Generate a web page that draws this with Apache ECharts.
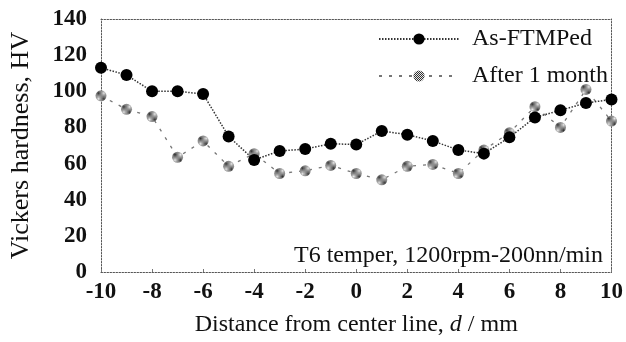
<!DOCTYPE html>
<html>
<head>
<meta charset="utf-8">
<script src="https://cdn.jsdelivr.net/npm/echarts@6/dist/echarts.min.js"></script>
<style>html,body{margin:0;padding:0;background:#fff;}#c{width:626px;height:342px;}</style>
</head>
<body>
<div id="c"></div>
<script>
const distance = [-10,-9,-8,-7,-6,-5,-4,-3,-2,-1,0,1,2,3,4,5,6,7,8,9,10];
const asFTMPed = [113,109,100,100,98.5,75,62,67,68,71,70.5,78,76,72.5,67.5,65.5,74.5,85.5,89.5,93.5,95.5];
const after1Month = [97.5,90,86,63.5,72.5,58.5,65.5,54.5,56,59,54.5,51,58.5,59.5,54.5,67.5,77,91.5,80,101,83.5];
const xTicks = [-10,-8,-6,-4,-2,0,2,4,6,8,10];
const yTicks = [0,20,40,60,80,100,120,140];
const seriesNames = ['As-FTMPed','After 1 month'];
const xTitle = 'Distance from center line, ';
const yTitle = 'Vickers hardness, HV';
const note = 'T6 temper, 1200rpm-200nn/min';

const FONT = '"Liberation Serif","Times New Roman",serif';
const pc = document.createElement('canvas');
pc.width = 2; pc.height = 2;
const pctx = pc.getContext('2d');
pctx.fillStyle = '#e8e8e8'; pctx.fillRect(0,0,2,2);
pctx.fillStyle = '#333'; pctx.fillRect(0,0,1,1); pctx.fillRect(1,1,1,1);

const s1 = asFTMPed.map((v,i)=>[distance[i], v]);
const s2 = after1Month.map((v,i)=>[distance[i], v]);

const frame = {show:true, onZero:false, lineStyle:{color:'#555', width:1, type:[1.5,1.5]}};
const chart = echarts.init(document.getElementById('c'), null, {renderer:'canvas'});
chart.setOption({
  animation:false,
  backgroundColor:'#fff',
  grid:{left:97, right:12, top:19, bottom:66, containLabel:false},
  xAxis:[{
    type:'value', min:xTicks[0], max:xTicks[xTicks.length-1], interval:2,
    axisLine:frame,
    axisTick:{show:true, inside:true, length:3, lineStyle:{color:'#777'}},
    splitLine:{show:false},
    axisLabel:{fontFamily:FONT, fontWeight:'bold', fontSize:23, color:'#111', margin:9,
      formatter:v=>xTicks.includes(v)?String(v):''},
    name:'{n|'+xTitle+'}{i|d}{n| / mm}', nameLocation:'middle', nameGap:41,
    nameTextStyle:{rich:{
      n:{fontFamily:FONT,fontSize:24,color:'#111'},
      i:{fontFamily:FONT,fontSize:24,fontStyle:'italic',color:'#111'}}}
  },{
    type:'value', position:'top', min:-10, max:10,
    axisLine:frame, axisTick:{show:false}, axisLabel:{show:false}, splitLine:{show:false}
  }],
  yAxis:[{
    type:'value', min:yTicks[0], max:yTicks[yTicks.length-1], interval:20,
    axisLine:frame, axisTick:{show:false}, splitLine:{show:false},
    axisLabel:{fontFamily:FONT, fontWeight:'bold', fontSize:23, color:'#111', margin:14,
      padding:[5,0,0,0]},
    name:yTitle, nameLocation:'middle', nameGap:67, nameRotate:90,
    nameTextStyle:{fontFamily:FONT, fontSize:26, color:'#111'}
  },{
    type:'value', position:'right', min:0, max:140,
    axisLine:frame, axisTick:{show:false}, axisLabel:{show:false}, splitLine:{show:false}
  }],
  legend:[{
    data:[seriesNames[0]], left:373, top:22, itemWidth:80, itemHeight:14,
    textStyle:{fontFamily:FONT, fontSize:24, color:'#111', padding:[0,0,0,8]}
  },{
    data:[seriesNames[1]], left:373, top:59, itemWidth:80, itemHeight:14,
    textStyle:{fontFamily:FONT, fontSize:24, color:'#111', padding:[0,0,0,8]}
  }],
  graphic:[{
    type:'text', right:23, top:244,
    style:{text:note, fontFamily:FONT, fontSize:24, fill:'#111'}
  }],
  series:[{
    name:seriesNames[1], type:'line', data:s2, z:2,
    symbol:'circle', symbolSize:11,
    itemStyle:{color:{image:pc, repeat:'repeat'}, borderWidth:0},
    lineStyle:{color:'#777', width:1.3, type:[3,7]}
  },{
    name:seriesNames[0], type:'line', data:s1, z:3,
    symbol:'circle', symbolSize:12,
    itemStyle:{color:'#000'},
    lineStyle:{color:'#333', width:1.5, type:[1.5,1.5]}
  }]
});
</script>
</body>
</html>
